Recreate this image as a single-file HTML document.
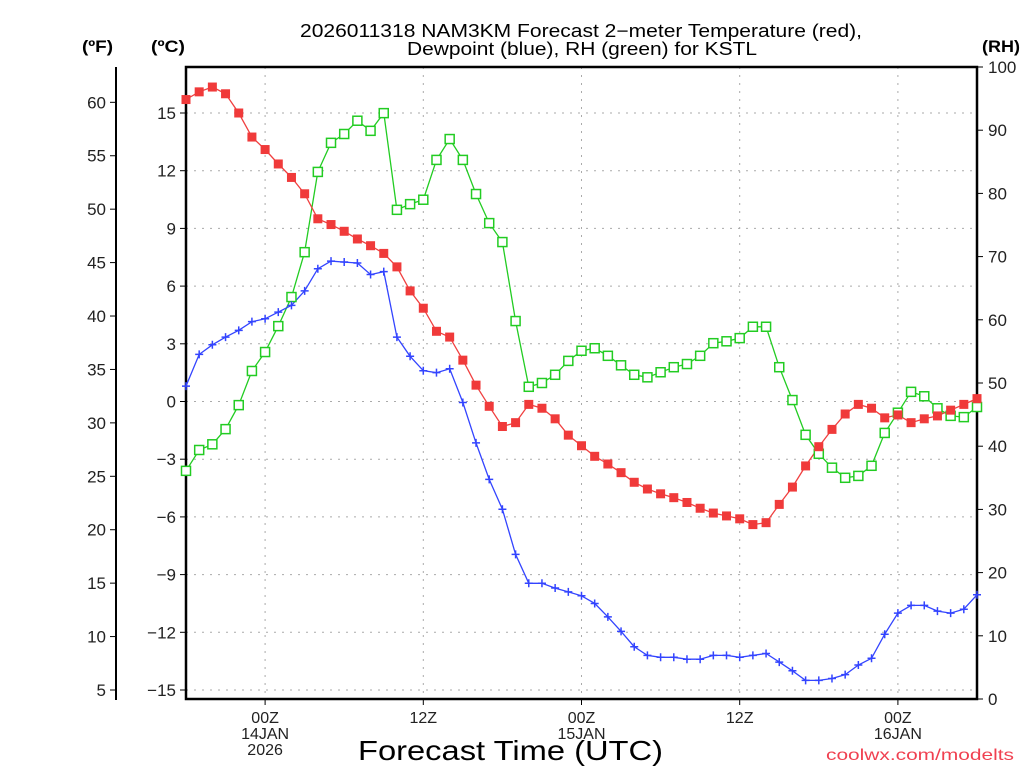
<!DOCTYPE html>
<html><head><meta charset="utf-8"><style>
html,body{margin:0;padding:0;background:#fff;}
svg{display:block;font-family:"Liberation Sans",sans-serif;}
</style></head><body>
<svg id="chart" width="1024" height="768" viewBox="0 0 1024 768" xmlns="http://www.w3.org/2000/svg">
<g id="grid"></g>
<g id="axes"></g>
<g id="series"></g>
<g font-size="18" fill="#000">
<text x="300" y="37" textLength="562" lengthAdjust="spacingAndGlyphs">2026011318 NAM3KM Forecast 2−meter Temperature (red),</text>
<text x="407" y="55" textLength="350" lengthAdjust="spacingAndGlyphs">Dewpoint (blue), RH (green) for KSTL</text>
</g>
<text x="82" y="52" font-size="17" font-weight="bold" textLength="31" lengthAdjust="spacingAndGlyphs">(ºF)</text>
<text x="151" y="52" font-size="17" font-weight="bold" textLength="34" lengthAdjust="spacingAndGlyphs">(ºC)</text>
<text x="982" y="52" font-size="17" font-weight="bold" textLength="38" lengthAdjust="spacingAndGlyphs">(RH)</text>
<text x="358" y="760" font-size="28" textLength="305" lengthAdjust="spacingAndGlyphs">Forecast Time (UTC)</text>
<text x="826" y="760" font-size="16" fill="#f04050" textLength="188" lengthAdjust="spacingAndGlyphs">coolwx.com/modelts</text>
</svg>
<script>
const hours = [];
for (let i = 0; i <= 60; i++) hours.push(i);
const tempC = [15.7,16.1,16.35,16.0,15.0,13.75,13.1,12.35,11.65,10.8,9.5,9.2,8.85,8.45,8.1,7.7,7.0,5.75,4.85,3.65,3.35,2.15,0.85,-0.25,-1.3,-1.1,-0.15,-0.35,-0.9,-1.75,-2.3,-2.85,-3.25,-3.7,-4.2,-4.55,-4.8,-5.0,-5.25,-5.55,-5.8,-5.95,-6.1,-6.4,-6.3,-5.35,-4.45,-3.35,-2.35,-1.45,-0.65,-0.15,-0.35,-0.85,-0.7,-1.1,-0.9,-0.75,-0.45,-0.15,0.15];
const dewC = [0.8,2.45,2.95,3.35,3.7,4.15,4.3,4.65,5.0,5.75,6.9,7.3,7.25,7.2,6.6,6.75,3.35,2.35,1.6,1.5,1.7,-0.05,-2.15,-4.05,-5.6,-7.95,-9.45,-9.45,-9.7,-9.9,-10.1,-10.5,-11.2,-11.95,-12.75,-13.2,-13.3,-13.3,-13.4,-13.4,-13.2,-13.2,-13.3,-13.2,-13.1,-13.55,-14.0,-14.5,-14.5,-14.4,-14.2,-13.7,-13.35,-12.1,-11.0,-10.6,-10.6,-10.9,-11.0,-10.8,-10.05];
const rh = [36.1,39.4,40.3,42.7,46.5,51.9,54.9,59.0,63.6,70.7,83.4,88.0,89.4,91.5,89.9,92.7,77.4,78.3,79.0,85.3,88.6,85.3,79.9,75.3,72.3,59.8,49.4,50.0,51.3,53.5,55.1,55.5,54.3,52.8,51.3,50.9,51.7,52.5,53.0,54.3,56.3,56.6,57.1,58.9,58.9,52.5,47.3,41.8,38.8,36.6,35.0,35.3,36.9,42.1,45.3,48.6,47.9,46.0,44.8,44.6,46.2];
const cTicks = [15,12,9,6,3,0,-3,-6,-9,-12,-15];
const fTicks = [60,55,50,45,40,35,30,25,20,15,10,5];
const rhTicks = [100,90,80,70,60,50,40,30,20,10,0];
const timeTicks = [6,18,30,42,54];
const timeLabels = [["00Z","14JAN","2026"],["12Z"],["00Z","15JAN"],["12Z"],["00Z","16JAN"]];

const L=186,R=977,T=67,B=699;
const xS = h => L + (R-L)*h/60;
const yC = c => 401.5 - c*19.233;
const yF = f => yC((f-32)/1.8);
const yRH = v => B - (B-T)*v/100;
const NS="http://www.w3.org/2000/svg";
function mk(tag, attrs, parent){const e=document.createElementNS(NS,tag);for(const k in attrs)e.setAttribute(k,attrs[k]);parent.appendChild(e);return e;}
const grid=document.getElementById('grid'), axes=document.getElementById('axes'), series=document.getElementById('series');

cTicks.forEach(c=>{
  const y=yC(c);
  const g=mk('line',{x1:L,x2:R,y1:y,y2:y,stroke:'#aaa','stroke-dasharray':'2,6','stroke-width':1},grid);
  
  
  const t=mk('line',{x1:L-6,x2:L,y1:y,y2:y,stroke:'#000'},axes);
  
  
  const tx=mk('text',{x:L-10,y:y+6,'font-size':17,'text-anchor':'end',fill:'#222'},axes);
  tx.textContent=(c<0?'−':'')+Math.abs(c);
  
  
});
timeTicks.forEach((h,i)=>{
  const x=xS(h);
  const g=mk('line',{x1:x,x2:x,y1:T,y2:B,stroke:'#aaa','stroke-dasharray':'2,6','stroke-width':1},grid);
  
  
  const t=mk('line',{x1:x,x2:x,y1:B,y2:B+6,stroke:'#000'},axes);
  
  
  timeLabels[i].forEach((s,j)=>{
    const tx=mk('text',{x:x,y:723+j*16,'font-size':16,'text-anchor':'middle',fill:'#222'},axes);
    tx.textContent=s;
    
    
  });
});
fTicks.forEach(f=>{
  const y=yF(f);
  const t=mk('line',{x1:110,x2:116,y1:y,y2:y,stroke:'#000'},axes);
  
  
  const tx=mk('text',{x:106,y:y+6,'font-size':17,'text-anchor':'end',fill:'#222'},axes);
  tx.textContent=f;
  
  
});
rhTicks.forEach(v=>{
  const y=yRH(v);
  const t=mk('line',{x1:R,x2:R+6,y1:y,y2:y,stroke:'#000'},axes);
  
  
  const tx=mk('text',{x:988,y:y+6,'font-size':17,'text-anchor':'start',fill:'#222'},axes);
  tx.textContent=v;
  
  
});
const fa=mk('line',{x1:116,x2:116,y1:T,y2:B+1,stroke:'#000','stroke-width':2},axes);


const fr=mk('rect',{x:L,y:T,width:R-L,height:B-T,fill:'none',stroke:'#000','stroke-width':2.5},axes);



function line(vals, yf, color, name){
  const pts=vals.map((v,i)=>xS(hours[i]).toFixed(1)+','+yf(v).toFixed(1)).join(' ');
  const p=mk('polyline',{points:pts,fill:'none',stroke:color,'stroke-width':1.3},series);
  
  
}
line(rh,yRH,'#22cc22','rh');
line(dewC,yC,'#3344ff','dewpoint');
line(tempC,yC,'#f04040','temperature');
rh.forEach((v,i)=>{
  const x=xS(hours[i]),y=yRH(v);
  const m=mk('rect',{x:x-4.5,y:y-4.5,width:9,height:9,fill:'#fff',stroke:'#22cc22','stroke-width':1.5},series);
  
  
});
dewC.forEach((v,i)=>{
  const x=xS(hours[i]),y=yC(v);
  const m=mk('path',{d:`M${x-4},${y}H${x+4}M${x},${y-4}V${y+4}`,stroke:'#3344ff','stroke-width':1.5,fill:'none'},series);
  
  
});
tempC.forEach((v,i)=>{
  const x=xS(hours[i]),y=yC(v);
  const m=mk('rect',{x:x-4.5,y:y-4.5,width:9,height:9,fill:'#f03a3a'},series);
  
  
});
</script>
</body></html>
